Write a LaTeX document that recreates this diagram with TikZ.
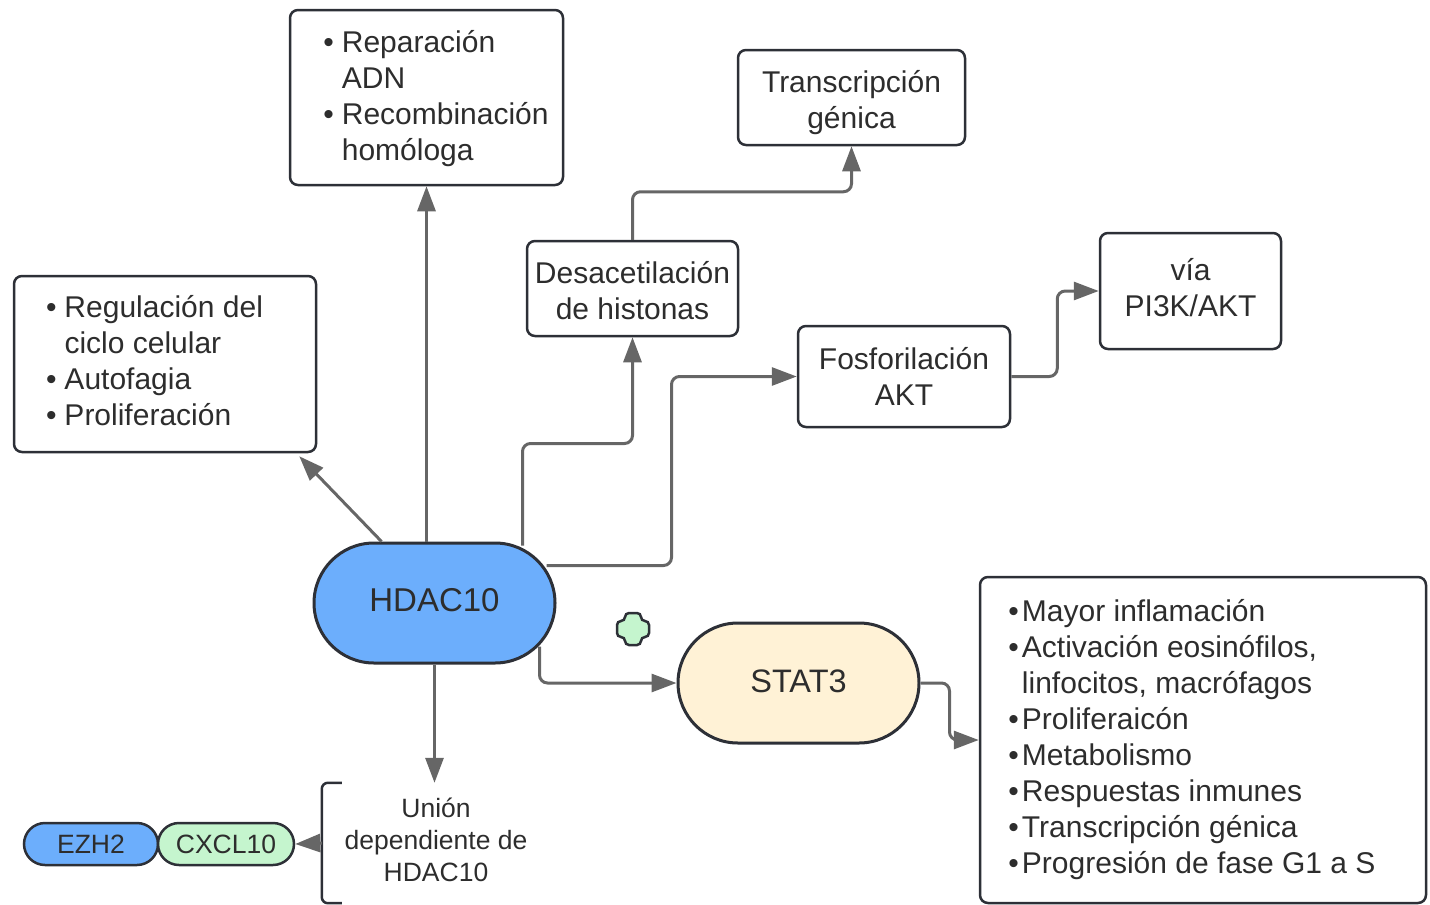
\documentclass[tikz,border=0pt]{standalone}
\usepackage{fontspec}
\setmainfont{Liberation Sans}
\usetikzlibrary{arrows.meta,calc}

\definecolor{conngray}{RGB}{102,102,102}
\definecolor{edge}{RGB}{45,48,55}
\definecolor{ink}{RGB}{45,45,45}
\definecolor{hdblue}{RGB}{108,174,252}
\definecolor{cream}{RGB}{255,242,214}
\definecolor{mint}{RGB}{197,245,206}

\newcommand{\bodyfont}{\fontsize{30}{36}\selectfont}
\newcommand{\smallfont}{\fontsize{26.5}{32}\selectfont}
% move contents vertically without changing the reported size
\newcommand{\nudge}[2]{\raisebox{#1}[\height][\depth]{#2}}

\tikzset{
  box/.style={draw=edge, line width=2.5pt, rounded corners=8pt, fill=white,
    text=ink, align=center, inner sep=0pt, font=\bodyfont},
  pill/.style={draw=edge, line width=3pt, rounded corners=60pt, text=ink,
    inner sep=0pt},
  tag/.style={draw=edge, line width=2.5pt, rounded corners=21pt, text=ink,
    inner sep=0pt, minimum height=42pt, font=\smallfont},
  conn/.style={draw=conngray, line width=3pt, rounded corners=8pt,
    -{Triangle[length=25pt,width=18pt]}},
}

\begin{document}
\begin{tikzpicture}[x=1pt,y=-1pt]
\useasboundingbox (0,0) rectangle (1430,905);

% text boxes
\node[box, minimum width=273pt, minimum height=175pt] (rep) at (426.5,97.5)
  {\hspace*{19pt}\nudge{-2pt}{\begin{tabular}{@{}l@{\hspace{8pt}}l@{}}
   • & Reparación\\ & ADN\\ • & Recombinación\\ & homóloga\end{tabular}}};
\node[box, minimum width=227pt, minimum height=95pt] (tr) at (851.5,97.5)
  {\nudge{-6pt}{\begin{tabular}{@{}c@{}}Transcripción\\génica\end{tabular}}};
\node[box, minimum width=211pt, minimum height=95pt] (des) at (632.5,288.5)
  {\nudge{-6pt}{\begin{tabular}{@{}c@{}}Desacetilación\\de histonas\end{tabular}}};
\node[box, minimum width=181pt, minimum height=116pt] (via) at (1190.5,291)
  {\begin{tabular}{@{}c@{}}vía\\PI3K/AKT\end{tabular}};
\node[box, minimum width=212pt, minimum height=101pt] (fos) at (904,376.5)
  {Fosforilación\\AKT};
\node[box, minimum width=302pt, minimum height=176pt] (reg) at (165,364)
  {\begin{tabular}{@{}l@{\hspace{8pt}}l@{}}
   • & Regulación del\\ & ciclo celular\\ • & Autofagia\\ • & Proliferación\end{tabular}\hspace*{21pt}};
\node[box, minimum width=446pt, minimum height=326pt] (rb) at (1203,740)
  {\begin{tabular}{@{}l@{\hspace{3pt}}l@{}}
   • & Mayor inflamación\\ • & Activación eosinófilos,\\ & linfocitos, macrófagos\\
   • & Proliferaicón\\ • & Metabolismo\\ • & Respuestas inmunes\\
   • & Transcripción génica\\ • & Progresión de fase G1 a S\end{tabular}\hspace*{22pt}};

% central proteins
\node[pill, fill=hdblue, minimum width=241pt, minimum height=120pt,
  font=\fontsize{33}{40}\selectfont] (hd) at (434.5,603) {\nudge{3pt}{HDAC10}};
\node[pill, fill=cream, minimum width=241pt, minimum height=120pt,
  font=\fontsize{32.5}{38}\selectfont] (st) at (798.5,683) {\nudge{2pt}{STAT3}};

% bound pair and its label
\node[tag, fill=hdblue, minimum width=134pt] (ez) at (91,844) {EZH2};
\node[tag, fill=mint, minimum width=136pt] (cx) at (226,844) {CXCL10};
\node[text=ink, align=center, font=\smallfont, inner sep=0pt,
  minimum width=228pt, minimum height=120pt] (un) at (436,843)
  {\begin{tabular}{@{}c@{}}Unión\\dependiente de\\HDAC10\end{tabular}};
\draw[edge, line width=2.5pt, rounded corners=6pt]
  ($(un.north west)+(20,0)$) -- (un.north west) -- (un.south west)
  -- ($(un.south west)+(20,0)$);

% small marker
\coordinate (mk) at (633,629);
\draw[edge, line width=2.5pt, fill=mint, rounded corners=4pt]
  ($(mk)+(-8,-16)$) -- ++(16,0) -- ++(0,8) -- ++(8,0) -- ++(0,16)
  -- ++(-8,0) -- ++(0,8) -- ++(-16,0) -- ++(0,-8) -- ++(-8,0)
  -- ++(0,-16) -- ++(8,0) -- cycle;

% connectors
\draw[conn] ($(hd.north west)+(69,0)$) -- ($(reg.south east)+(-18,3)$);
\draw[conn] (rep.south |- hd.north) -- (rep.south);
\draw[conn] ($(hd.north east)+(-34,4)$) -- ++(0,-102) -| (des.south);
\draw[conn] ($(hd.north east)+(-10,24)$) -- ++(125,0) |- (fos.west);
\draw[conn] (des.north) -- ++(0,-48) -| (tr.south);
\draw[conn] (fos.east) -- ++(46,0) |- (via.west);
\draw[conn] ($(hd.south east)+(-17,-18)$) |- (st.west);
\draw[conn] (st.east) -- ++(29,0) |- (rb.west);
\draw[conn] (hd.south) -- (hd.south |- un.north);
\draw[conn] (un.west) -- (cx.east);
\end{tikzpicture}
\end{document}
